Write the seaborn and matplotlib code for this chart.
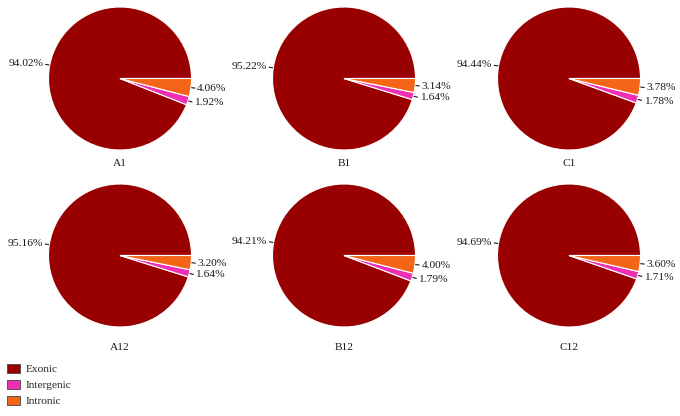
import numpy as np
import matplotlib
matplotlib.use("Agg")
import matplotlib.pyplot as plt
from matplotlib.patches import Patch
import seaborn as sns

# data
samples = ["A1", "B1", "C1", "A12", "B12", "C12"]
categories = ["Exonic", "Intergenic", "Intronic"]
exonic = [94.02, 95.22, 94.44, 95.16, 94.21, 94.69]
intergenic = [1.92, 1.64, 1.78, 1.64, 1.79, 1.71]
intronic = [4.06, 3.14, 3.78, 3.20, 4.00, 3.60]
colors = ["#990000", "#EE2FB4", "#F46518"]

sns.set_theme(style="white")
plt.rcParams["font.family"] = ["Liberation Serif", "DejaVu Serif"]
FS = 8.2

W, H = 680, 416
fig = plt.figure(figsize=(W / 100, H / 100), dpi=100)

# pie centres / radius in pixels
cx = [120, 344, 569]
cy = [78.5, 255.5]
R = 71.5

for i, name in enumerate(samples):
    row, col = divmod(i, 3)
    x0, y0 = cx[col], cy[row]
    ax = fig.add_axes([(x0 - R) / W, 1 - (y0 + R) / H, 2 * R / W, 2 * R / H])
    vals = [exonic[i], intergenic[i], intronic[i]]
    wedges, _ = ax.pie(vals, colors=colors, startangle=0, counterclock=True,
                       wedgeprops=dict(edgecolor="white", linewidth=0.8))
    ax.set_xlim(-1, 1)
    ax.set_ylim(-1, 1)
    ax.axis("off")
    for w, v in zip(wedges, vals):
        ang = np.deg2rad((w.theta1 + w.theta2) / 2)
        c, s = np.cos(ang), np.sin(ang)
        ax.plot([1.01 * c, 1.06 * c], [1.01 * s, 1.06 * s], color="#1a1a1a",
                lw=0.8, clip_on=False)
        ha = "left" if c > 0 else "right"
        ax.text(1.09 * c, 1.09 * s, f"{v:.2f}%", ha=ha, va="center",
                fontsize=FS, color="#1a1a1a")
    ax.text(0, -1.0 - 13 / R if row == 0 else -1.0 - 20 / R, name,
            ha="center", va="center", fontsize=FS, color="#1a1a1a")

handles = [Patch(facecolor=c, edgecolor="#444444", linewidth=0.6) for c in colors]
fig.legend(handles, categories, loc="upper left",
           bbox_to_anchor=(7 / W, 1 - 364 / H), frameon=False,
           fontsize=FS, handlelength=1.15, handleheight=0.8,
           handletextpad=0.5, labelspacing=0.5, borderpad=0,
           borderaxespad=0)

fig.savefig("out.png", dpi=100, facecolor="white")
